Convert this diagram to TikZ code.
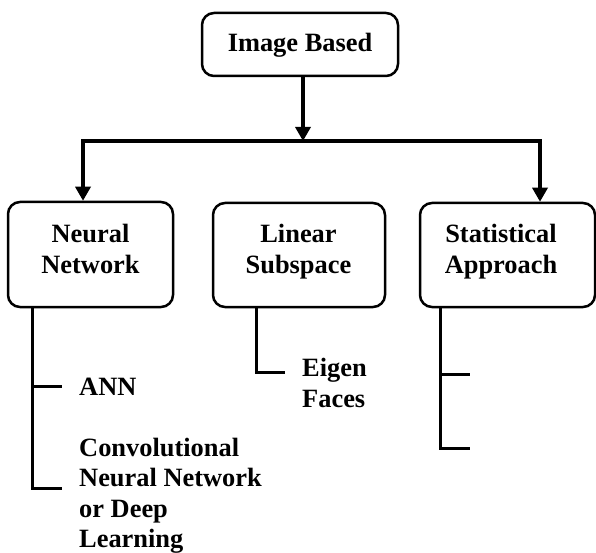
\documentclass[tikz,border=0pt]{standalone}
\usepackage{fontspec}
\setmainfont{Liberation Serif}
\usetikzlibrary{arrows.meta}
\begin{document}
\begin{tikzpicture}[x=1pt,y=-1pt,
  catbox/.style={draw,line width=2.5pt,rounded corners=12pt,inner sep=0pt},
  cattext/.style={inner sep=0pt,align=center,anchor=base,
     font=\fontsize{26.4}{31}\selectfont\bfseries},
  leaf/.style={inner sep=0pt,align=left,anchor=base west,
     font=\fontsize{26.4}{30.5}\selectfont\bfseries},
  conn/.style={line width=3.3pt,line join=miter},
  branch/.style={line width=3pt,line join=miter},
  arr/.style={conn,-{Triangle[width=15pt,length=14pt]}},
  arr2/.style={conn,{Triangle[width=15pt,length=14pt]}-{Triangle[width=15pt,length=14pt]}}]
\useasboundingbox (0,0) rectangle (596,553);
% category boxes
\node[catbox,minimum width=196pt,minimum height=63pt] (img) at (300,44.5) {};
\node[catbox,minimum width=165pt,minimum height=105pt] (nn) at (90.5,254.5) {};
\node[catbox,minimum width=172pt,minimum height=104pt] (ls) at (299,255) {};
\node[catbox,minimum width=175pt,minimum height=104pt] (sa) at (507.5,255) {};
% box texts
\node[cattext] (imgT) at (300,52) {Image Based};
\node[cattext] (nnT) at (90.5,273) {Neural\\Network};
\node[cattext] (lsT) at (298.5,273) {Linear\\Subspace};
\node[cattext] (saT) at (501,273) {Statistical\\Approach};
% leaves
\node[leaf] (ann) at (79,395) {ANN};
\node[leaf] (cnn) at (79,547.5) {Convolutional\\Neural Network\\or Deep\\Learning};
\node[leaf] (eig) at (302,407) {Eigen\\Faces};
% main connectors
\coordinate (hub) at (303,141);
\coordinate (L) at (83,141);
\coordinate (R) at (540,141);
\draw[arr] (img.south -| hub) -- (hub);
\draw[arr2] (nn.north -| L) -- (L) -- (R) -- (sa.north -| R);
% neural network branches
\coordinate (nv) at (32,488);
\coordinate (nA) at (62,386);
\coordinate (nB) at (62,488);
\draw[branch] (nn.south -| nv) -- (nv) -- (nB);
\draw[branch] (nA -| nv) -- (nA);
% linear subspace branch
\coordinate (lv) at (256,372);
\coordinate (lA) at (285,372);
\draw[branch] (ls.south -| lv) -- (lv) -- (lA);
% statistical branches
\coordinate (sv) at (440,448);
\coordinate (sA) at (470,374);
\coordinate (sB) at (470,448);
\draw[branch] (sa.south -| sv) -- (sv) -- (sB);
\draw[branch] (sA -| sv) -- (sA);
\end{tikzpicture}
\end{document}
